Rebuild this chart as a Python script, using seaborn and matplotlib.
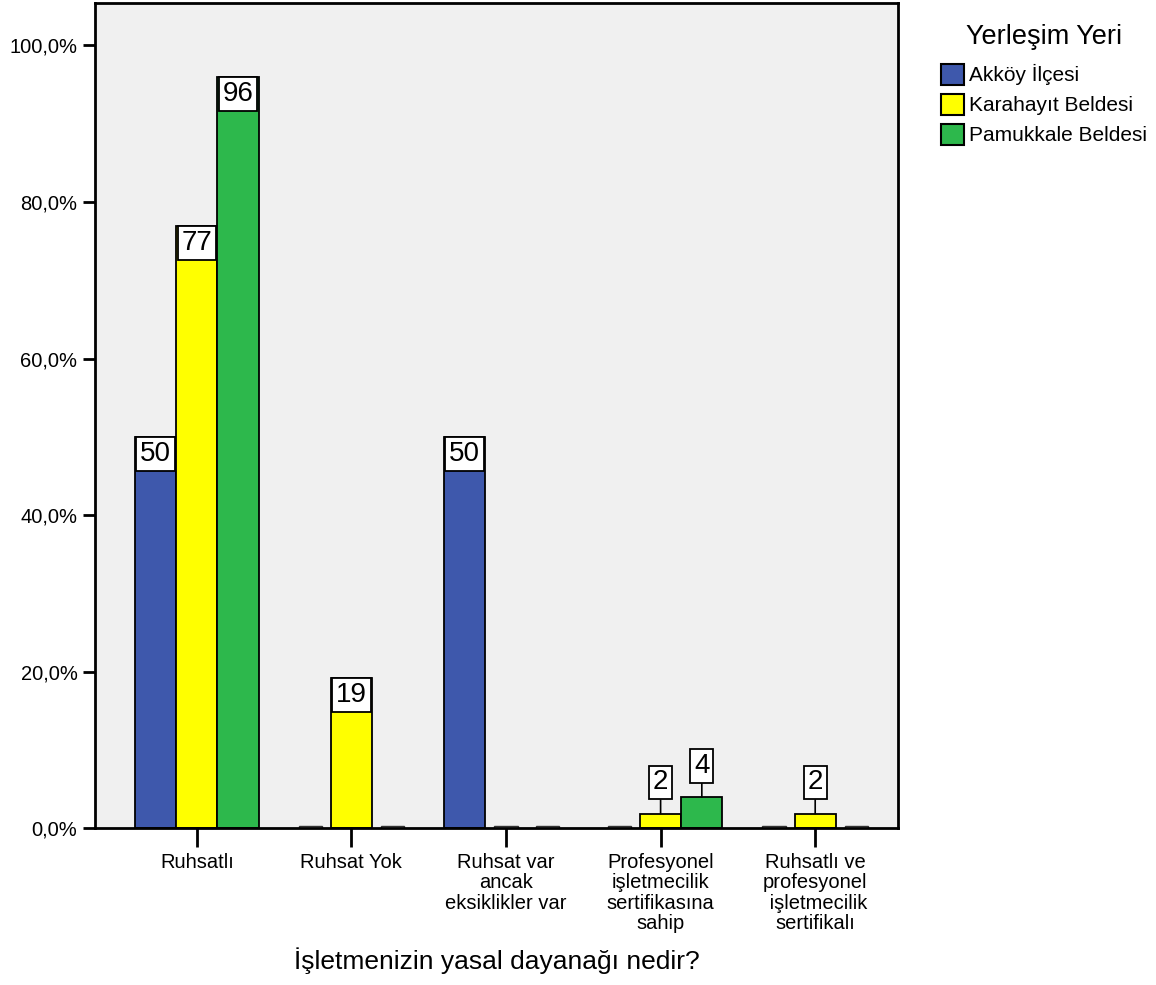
#!/usr/bin/env python3

import pandas as pd
import matplotlib
matplotlib.use("Agg")
from matplotlib import pyplot as plt
from matplotlib.patches import Patch
from matplotlib.ticker import FuncFormatter
import seaborn as sns

sns.set_style("ticks")
plt.rcParams["font.family"] = ["Liberation Sans", "DejaVu Sans"]
plt.rcParams["text.color"] = "black"
plt.rcParams["axes.labelcolor"] = "black"
plt.rcParams["xtick.color"] = "black"
plt.rcParams["ytick.color"] = "black"

categories = ["Ruhsatlı", "Ruhsat Yok", "Ruhsat var\nancak\neksiklikler var",
              "Profesyonel\nişletmecilik\nsertifikasına\nsahip",
              "Ruhsatlı ve\nprofesyonel\n işletmecilik\nsertifikalı"]
places = ["Akköy İlçesi", "Karahayıt Beldesi", "Pamukkale Beldesi"]
akkoy = [50.0, 0.0, 50.0, 0.0, 0.0]
karahayit = [76.9, 19.2, 0.0, 1.9, 1.9]
pamukkale = [96.0, 0.0, 0.0, 4.0, 0.0]
colors = ["#3E58AC", "#FFFF00", "#2DB84C"]

rows = []
for place, vals in zip(places, [akkoy, karahayit, pamukkale]):
    for cat, v in zip(categories, vals):
        rows.append({"cat": cat, "place": place, "pct": v})
df = pd.DataFrame(rows)

fig = plt.figure(figsize=(11.56, 9.85), dpi=100)
ax = fig.add_axes([0.082, 0.159, 0.695, 0.838])
ax.set_facecolor("#F0F0F0")

sns.barplot(data=df, x="cat", y="pct", hue="place", order=categories, hue_order=places,
            palette=colors, saturation=1, edgecolor="black", linewidth=1.3, width=0.8,
            ax=ax, errorbar=None)

for cont in ax.containers:
    for bar, v in zip(cont, cont.datavalues):
        if v == 0:
            # empty categories are drawn as thin white stubs
            w = bar.get_width()
            bar.set_x(bar.get_x() + w * 0.22)
            bar.set_width(w * 0.56)
            bar.set_height(0.3)
            bar.set_facecolor("white")
            bar.set_edgecolor("#333333")
            bar.set_linewidth(1.0)
            continue
        xc = bar.get_x() + bar.get_width() / 2
        box = dict(boxstyle="square,pad=0.14", fc="white", ec="black", lw=1.3)
        if v >= 10:
            ax.annotate("%d" % round(v), (xc, v), xytext=(0, -3), textcoords="offset points",
                        ha="center", va="top", fontsize=20, bbox=box)
        else:
            ax.annotate("%d" % round(v), (xc, v), xytext=(0, 13), textcoords="offset points",
                        ha="center", va="bottom", fontsize=20, bbox=box,
                        arrowprops=dict(arrowstyle="-", color="black", lw=1.2,
                                        shrinkA=0, shrinkB=0))

ax.set_ylim(0, 105.4)
ax.set_xlim(-0.66, 4.537)
ax.set_yticks([0, 20, 40, 60, 80, 100])
ax.yaxis.set_major_formatter(FuncFormatter(lambda v, p: ("%.1f%%" % v).replace(".", ",")))
ax.tick_params(axis="both", labelsize=14.5, width=2, length=9, color="black")
ax.tick_params(axis="x", length=14)
for t in ax.get_xticklabels():
    t.set_linespacing(1.1)
for s in ax.spines.values():
    s.set_visible(True)
    s.set_linewidth(2)
    s.set_color("black")

ax.set_ylabel("")
ax.set_xlabel("İşletmenizin yasal dayanağı nedir?", fontsize=19, labelpad=10)

ax.get_legend().remove()
handles = [Patch(facecolor=c, edgecolor="black", linewidth=1.5) for c in colors]
leg = fig.legend(handles, places, title="Yerleşim Yeri", loc="upper left",
                 bbox_to_anchor=(0.798, 0.995), frameon=False, fontsize=15,
                 title_fontsize=19.5, handlelength=1.1, handleheight=1.2,
                 handletextpad=0.25, labelspacing=0.4)
leg._legend_box.sep = 10

fig.savefig("out.png", dpi=100)
